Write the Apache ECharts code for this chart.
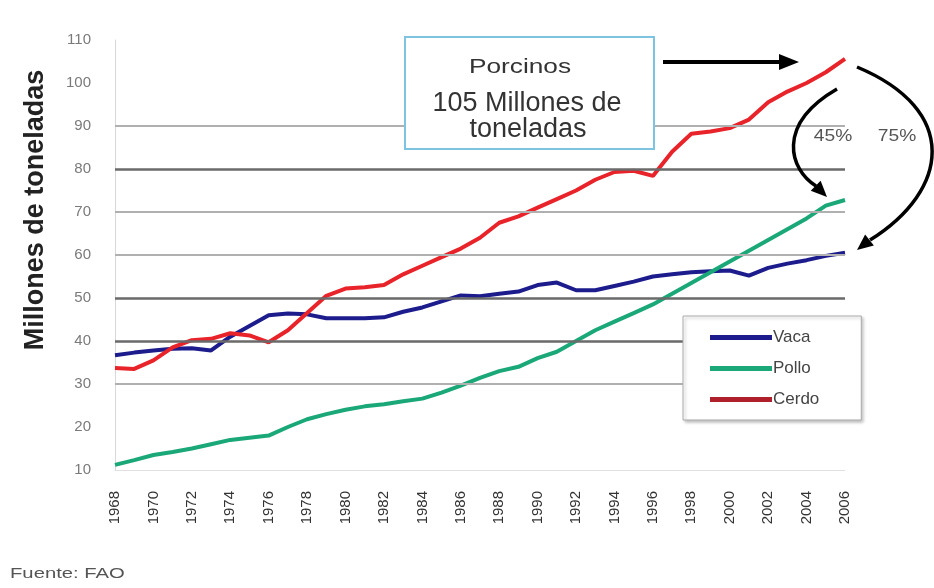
<!DOCTYPE html>
<html><head><meta charset="utf-8">
<script src="https://cdn.jsdelivr.net/npm/echarts@6/dist/echarts.min.js"></script>
<style>html,body{margin:0;padding:0;background:#fff}#c{width:934px;height:588px}</style>
</head><body><div id="c"></div>
<script>
const years = ['1968','1969','1970','1971','1972','1973','1974','1975','1976','1977','1978','1979','1980','1981','1982','1983','1984','1985','1986','1987','1988','1989','1990','1991','1992','1993','1994','1995','1996','1997','1998','1999','2000','2001','2002','2003','2004','2005','2006'];
const vaca = [36.7,37.3,37.8,38.2,38.3,37.8,41,43.5,46,46.4,46.2,45.3,45.3,45.3,45.5,46.8,47.8,49.2,50.6,50.4,51,51.5,53,53.6,51.8,51.8,52.8,53.8,55,55.5,56,56.2,56.4,55.2,57,58,58.8,59.8,60.5];
const pollo = [11.2,12.3,13.5,14.2,15,16,17,17.5,18,20,21.8,23,24,24.8,25.3,26,26.6,28,29.6,31.4,33,34,36,37.5,40,42.5,44.5,46.5,48.5,51,53.5,56,58.5,61,63.5,66,68.5,71.5,72.8];
const cerdo = [33.7,33.5,35.5,38.5,40.2,40.5,41.8,41.3,39.7,42.5,46.5,50.5,52.2,52.5,53,55.5,57.5,59.5,61.5,64,67.5,69,71,73,75,77.5,79.3,79.6,78.4,84,88.2,88.7,89.5,91.5,95.5,98,100,102.5,105.6];
const seriesNames = ['Vaca','Pollo','Cerdo'];
const gridDark = [40,50,80];
const gridLight = [30,60,70,90];

const chart = echarts.init(document.getElementById('c'));

function arrowHead(tip, from, len, half){
  const dx = tip[0]-from[0], dy = tip[1]-from[1];
  const d = Math.sqrt(dx*dx+dy*dy); const ux = dx/d, uy = dy/d;
  const bx = tip[0]-ux*len, by = tip[1]-uy*len;
  return {type:'polygon', z:100, shape:{points:[tip,[bx-uy*half,by+ux*half],[bx+uy*half,by-ux*half]]}, style:{fill:'#000'}};
}

const markData = gridDark.map(v=>({yAxis:v, lineStyle:{color:'#6a6a6a', width:2.5, type:'solid'}}))
  .concat(gridLight.map(v=>({yAxis:v, lineStyle:{color:'#b0b0b0', width:2, type:'solid'}})));

const fontFam = 'Liberation Sans, Arial, sans-serif';

chart.setOption({
  animation:false,
  backgroundColor:'#fff',
  grid:{left:115, right:89, top:40, bottom:118},
  xAxis:{type:'category', data:years, boundaryGap:false,
    axisLine:{show:true, lineStyle:{color:'#e0e0e0'}}, axisTick:{show:false},
    axisLabel:{interval:1, rotate:90, margin:21, color:'#333', fontSize:15, fontFamily:fontFam}},
  yAxis:{type:'value', min:10, max:110, interval:10,
    axisLine:{show:true, lineStyle:{color:'#d8d8d8'}}, axisTick:{show:false},
    splitLine:{show:false},
    axisLabel:{margin:24, color:'#7a7a7a', fontSize:15, fontFamily:fontFam}},
  legend:{data:seriesNames, orient:'vertical', left:683, top:316, z:30, zlevel:1,
    padding:[13,42,12,27], itemGap:14, itemWidth:62, itemHeight:5, icon:'rect',
    backgroundColor:'#fff', borderColor:'#aaa', borderWidth:1,
    shadowColor:'rgba(0,0,0,0.25)', shadowBlur:3, shadowOffsetX:2, shadowOffsetY:2,
    textStyle:{color:'#444', fontSize:17, fontFamily:fontFam, padding:[0,0,0,-4]}},
  series:[
    {name:'grid', type:'line', data:[], z:1, silent:true,
      markLine:{silent:true, symbol:'none', label:{show:false}, data:markData}},
    {name:'Vaca', type:'line', data:vaca, showSymbol:false, z:3, lineStyle:{color:'#1c1c8c', width:4}, itemStyle:{color:'#1c1c8c'}},
    {name:'Pollo', type:'line', data:pollo, showSymbol:false, z:3, lineStyle:{color:'#1ba878', width:4}, itemStyle:{color:'#1ba878'}},
    {name:'Cerdo', type:'line', data:cerdo, showSymbol:false, z:4, lineStyle:{color:'#e8232a', width:4}, itemStyle:{color:'#b0202a'}}
  ],
  graphic:[
    {type:'text', z:50, x:36, y:210, rotation:Math.PI/2,
      style:{text:'Millones de toneladas', font:'bold 27px '+fontFam, fill:'#222', textAlign:'center', textVerticalAlign:'middle'}},
    {type:'text', z:50, x:10, y:574, scaleX:1.35, style:{text:'Fuente: FAO', font:'15px '+fontFam, fill:'#555', textVerticalAlign:'middle'}},
    {type:'rect', z:60, shape:{x:405, y:37, width:249, height:112}, style:{fill:'#fff', stroke:'#7fc3e3', lineWidth:2}},
    {type:'text', z:61, x:520, y:67, scaleX:1.25, style:{text:'Porcinos', font:'21px '+fontFam, fill:'#333', textAlign:'center', textVerticalAlign:'middle'}},
    {type:'text', z:61, x:527, y:104, style:{text:'105 Millones de', font:'27px '+fontFam, fill:'#333', textAlign:'center', textVerticalAlign:'middle'}},
    {type:'text', z:61, x:528, y:130, style:{text:'toneladas', font:'27px '+fontFam, fill:'#333', textAlign:'center', textVerticalAlign:'middle'}},
    {type:'line', z:100, shape:{x1:663, y1:62, x2:782, y2:62}, style:{stroke:'#000', lineWidth:4}},
    arrowHead([799,62],[782,62],20,8),
    {type:'bezierCurve', z:100, shape:{x1:837, y1:89, cpx1:775, cpy1:125, cpx2:790, cpy2:170, x2:816, y2:186}, style:{stroke:'#000', lineWidth:3.5, fill:null}},
    arrowHead([827,197],[813,183],16,7),
    {type:'bezierCurve', z:100, shape:{x1:857, y1:67, cpx1:960, cpy1:110, cpx2:950, cpy2:190, x2:870, y2:240}, style:{stroke:'#000', lineWidth:3.5, fill:null}},
    arrowHead([857,250],[872,238],16,7),
    {type:'text', z:61, x:833, y:137, scaleX:1.2, style:{text:'45%', font:'16px '+fontFam, fill:'#555', textAlign:'center', textVerticalAlign:'middle'}},
    {type:'text', z:61, x:897, y:137, scaleX:1.2, style:{text:'75%', font:'16px '+fontFam, fill:'#555', textAlign:'center', textVerticalAlign:'middle'}}
  ]
});
</script></body></html>
